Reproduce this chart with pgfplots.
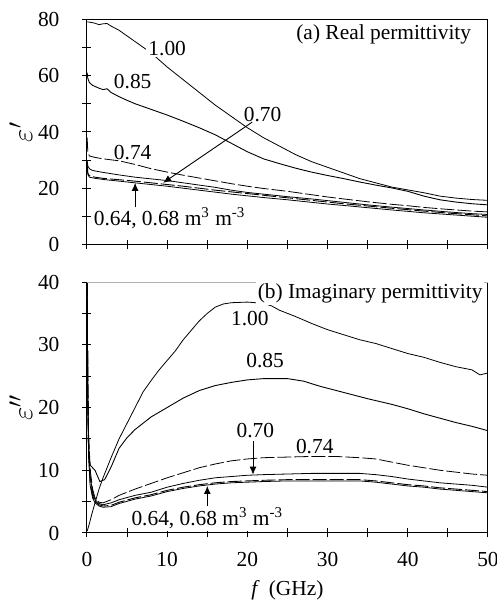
\documentclass[border=0pt]{standalone}
\usepackage{fontspec}
\setmainfont{Liberation Serif}
\usepackage{pgfplots}
\pgfplotsset{compat=1.18}
\usetikzlibrary{arrows.meta}

\tikzset{lbl/.style={font=\fontsize{10.7}{12}\selectfont, inner sep=0pt}}
\pgfplotsset{
  panel/.style={
    scale only axis, width=200.5pt, anchor=north west,
    xmin=0, xmax=50,
    xtick={0,10,...,50}, minor xtick={5,15,...,45},
    xtick pos=bottom, ytick pos=left, tick align=center,
    major tick length=4.5pt, minor tick length=4.5pt,
    every tick/.style={draw=black, line width=0.5pt},
    every minor tick/.style={draw=black, line width=0.5pt},
    axis line style={black, line width=0.5pt},
    /pgf/number format/assume math mode=true,
    ticklabel style={font=\fontsize{10.7}{12}\selectfont},
    yticklabel style={xshift=-8pt},
    xticklabel style={yshift=-4pt},
    cycle list={{black, line width=0.45pt, no marks}},
    clip=true,
  },
}

\begin{document}
\begin{tikzpicture}
\useasboundingbox (0,0) rectangle (248.5pt,-303pt);

% ---------------- (a) real permittivity ----------------
\begin{axis}[panel, at={(43.5pt,-9.5pt)}, height=113pt,
  ymin=0, ymax=80, ytick={0,20,...,80}, minor ytick={10,30,50,70},
  xticklabels={},
  ylabel={\fontsize{15}{16}\selectfont$\varepsilon'$},
  ylabel style={at={(axis description cs:-0.165,0.5)}, anchor=center},
]
% 1.00
\addplot coordinates {(0.05,79)(0.5,78.8)(1,78.5)(1.5,78)(2,78.3)(2.5,78.4)(3,77.5)(4,76)(5,74)(6,72)(7,70)(8,68)(9,65.5)(10,63)(12,58.5)(14,54)(16,49.5)(18,45.5)(20,41.5)(22,38)(24,35)(26,32)(28,29.5)(30,27.5)(32,25.5)(34,23.5)(36,22)(38,20.5)(40,19.5)(42,18.5)(44,17.3)(46,16.6)(48,16.1)(50,15.8)};
% 0.85
\addplot coordinates {(0.02,61)(0.1,59)(0.3,57.5)(0.7,56.5)(1.5,55.5)(2,55)(2.5,55.3)(3,54)(4,52.5)(5,51.2)(6,50)(8,48)(10,46)(12,43.8)(14,41.5)(16,39)(18,36)(20,33)(22,30.5)(24,28.8)(26,27.2)(28,25.8)(30,24.6)(32,23.5)(34,22.3)(36,21.2)(38,20.2)(40,19)(42,17.3)(44,16)(46,15.2)(48,14.6)(50,14.2)};
% 0.74
\addplot+[dash pattern=on 7pt off 1.5pt] coordinates {(0.02,38)(0.1,33)(0.3,31.5)(1,31)(2,30.5)(4,29.8)(6,28.5)(8,27)(10,25.8)(12,24.7)(14,23.7)(16,22.7)(18,21.7)(20,20.8)(22,20)(25,19)(28,17.8)(30,17)(32,16.3)(35,15.3)(38,14.4)(40,13.9)(42,13.3)(45,12.6)(48,12)(50,11.7)};
% 0.70
\addplot coordinates {(0.02,30)(0.1,28)(0.3,27)(0.6,26.5)(1,26.2)(2,25.7)(4,24.8)(6,24)(8,23.4)(10,22.8)(12,22)(14,21.2)(16,20.4)(18,19.4)(20,18.6)(22,18)(25,17.1)(28,16.3)(30,15.7)(32,15.1)(35,14.2)(38,13.4)(40,12.9)(42,12.4)(45,11.7)(48,11.1)(50,10.8)};
% 0.68
\addplot+[dash pattern=on 7pt off 1.5pt] coordinates {(0.02,29)(0.1,25.5)(0.3,24.5)(1,24)(2,23.6)(4,23.1)(6,22.6)(8,22)(10,21.4)(12,20.8)(14,20.1)(16,19.4)(18,18.8)(20,18.2)(22,17.6)(25,16.7)(28,15.8)(30,15.2)(32,14.6)(35,13.8)(38,13)(40,12.5)(42,12)(45,11.3)(48,10.7)(50,10.3)};
% 0.64
\addplot coordinates {(0.02,28)(0.1,25)(0.3,24)(1,23.6)(2,23.2)(4,22.6)(6,22)(8,21.4)(10,20.8)(12,20.1)(14,19.4)(16,18.7)(18,18)(20,17.4)(22,16.8)(25,16)(28,15.1)(30,14.5)(32,14)(35,13.2)(38,12.4)(40,11.9)(42,11.4)(45,10.8)(48,10.2)(50,9.8)};

\node[lbl] at (axis cs:37,74.5) {(a) Real permittivity};
\node[lbl, fill=white, inner sep=1pt] at (axis cs:10,69.7) {1.00};
\node[lbl] at (axis cs:5.7,57.7) {0.85};
\node[lbl] at (axis cs:5.7,32.9) {0.74};
\node[lbl] at (axis cs:21.9,46.3) {0.70};
\draw[-{Latex[length=4pt,width=3.5pt]}, line width=0.45pt] (axis cs:20.6,43.5) -- (axis cs:9.5,22);
\node[lbl, fill=white, inner sep=1pt] at (axis cs:10.3,9.6) {0.64, 0.68 m\textsuperscript{3} m\textsuperscript{-3}};
\draw[-{Latex[length=4pt,width=3.5pt]}, line width=0.45pt] (axis cs:6,13.3) -- (axis cs:6,22);
\end{axis}

% ---------------- (b) imaginary permittivity ----------------
\begin{axis}[panel, at={(43.5pt,-141pt)}, height=125.5pt,
  ymin=0, ymax=40, ytick={0,10,...,40}, minor ytick={5,15,25,35},
  ylabel={\fontsize{15}{16}\selectfont$\varepsilon''$},
  ylabel style={at={(axis description cs:-0.165,0.5)}, anchor=center},
  xlabel={\textit{f}\, (GHz)},
  xlabel style={at={(axis description cs:0.5,0)}, yshift=-28.5pt, anchor=center, font=\fontsize{10.7}{12}\selectfont},
]
% 1.00
\addplot coordinates {(0.02,0.3)(0.3,1.5)(0.6,3)(1,4.8)(1.5,7)(2,8.8)(2.5,10.4)(3,12)(4,15)(5,17.5)(6,20)(7,22.5)(8,24.3)(9,26)(10,27.5)(11,29)(12,30.8)(13,32.3)(14,33.8)(15,35)(16,36)(17,36.5)(18,36.7)(20,36.8)(22,36.6)(23,36.2)(24,35.5)(26,34.5)(28,33.4)(30,32.4)(32,31.6)(34,30.8)(36,30.2)(38,29.4)(40,28.6)(42,28)(44,27.2)(46,26.5)(48,26)(49,25.2)(50,25.5)};
% 0.85
\addplot coordinates {(0.02,40)(0.1,20)(0.2,13)(0.4,10.8)(1,10)(1.6,8.2)(2.2,8.5)(3,10.5)(4,13.5)(5,15.2)(6,16.5)(8,18.5)(10,20)(12,21.5)(14,22.7)(16,23.5)(18,24)(20,24.4)(22,24.6)(25,24.6)(27,24.2)(29,23.4)(32,22.4)(35,21.4)(38,20.5)(40,19.8)(42,19)(44,18.3)(46,17.6)(48,17)(50,16.3)};
% 0.74
\addplot+[dash pattern=on 7pt off 1.5pt] coordinates {(0.02,40)(0.1,25)(0.2,16)(0.4,10)(0.7,7)(1,5.6)(1.5,4.9)(2,4.8)(3,5.3)(4,6)(6,7)(8,7.9)(10,8.8)(12,9.6)(14,10.4)(16,11)(18,11.5)(20,11.8)(22,12)(25,12.1)(28,12.2)(31,12.2)(34,12)(36,11.8)(38,11.3)(40,10.8)(42,10.4)(44,10)(46,9.7)(48,9.4)(50,9.2)};
% 0.70
\addplot coordinates {(0.02,40)(0.1,24)(0.2,15)(0.4,9)(0.7,6.5)(1,5.3)(1.5,4.7)(2,4.5)(3,4.8)(4,5.3)(6,6)(8,6.5)(10,7.3)(12,7.9)(14,8.4)(16,8.8)(18,9)(20,9.2)(22,9.3)(25,9.4)(28,9.5)(31,9.5)(34,9.5)(36,9.3)(38,9)(40,8.6)(42,8.3)(44,8)(46,7.8)(48,7.6)(50,7.3)};
% 0.68
\addplot+[dash pattern=on 7pt off 1.5pt] coordinates {(0.02,40)(0.1,22)(0.2,13)(0.4,8)(0.7,6)(1,5)(1.5,4.5)(2,4.3)(3,4.4)(4,4.9)(6,5.6)(8,6.1)(10,6.8)(12,7.3)(14,7.7)(16,8)(18,8.2)(20,8.3)(22,8.4)(25,8.5)(28,8.5)(31,8.5)(34,8.5)(36,8.3)(38,8)(40,7.7)(42,7.5)(44,7.2)(46,7)(48,6.8)(50,6.6)};
% 0.64
\addplot coordinates {(0.02,40)(0.1,21)(0.2,12)(0.4,7.5)(0.7,5.6)(1,4.8)(1.5,4.3)(2,4.1)(3,4.2)(4,4.7)(6,5.4)(8,5.9)(10,6.6)(12,7.1)(14,7.5)(16,7.8)(18,8)(20,8.1)(22,8.2)(25,8.3)(28,8.3)(31,8.3)(34,8.3)(36,8.1)(38,7.8)(40,7.5)(42,7.3)(44,7)(46,6.8)(48,6.6)(50,6.4)};

\draw[gray!60, line width=0.6pt] (rel axis cs:0,1) -- (rel axis cs:1,1);
\node[lbl, fill=white, inner sep=1pt] at (axis cs:35.3,38.2) {(b) Imaginary permittivity};
\node[lbl] at (axis cs:20.3,34.2) {1.00};
\node[lbl] at (axis cs:22.2,27.5) {0.85};
\node[lbl] at (axis cs:21,16.4) {0.70};
\draw[-{Latex[length=4pt,width=3.5pt]}, line width=0.45pt] (axis cs:20.7,14.6) -- (axis cs:20.7,9.3);
\node[lbl] at (axis cs:28.4,13.8) {0.74};
\node[lbl, fill=white, inner sep=1pt] at (axis cs:15,2.4) {0.64, 0.68 m\textsuperscript{3} m\textsuperscript{-3}};
\draw[-{Latex[length=4pt,width=3.5pt]}, line width=0.45pt] (axis cs:15,4.3) -- (axis cs:15,7.5);
\end{axis}
\end{tikzpicture}
\end{document}
